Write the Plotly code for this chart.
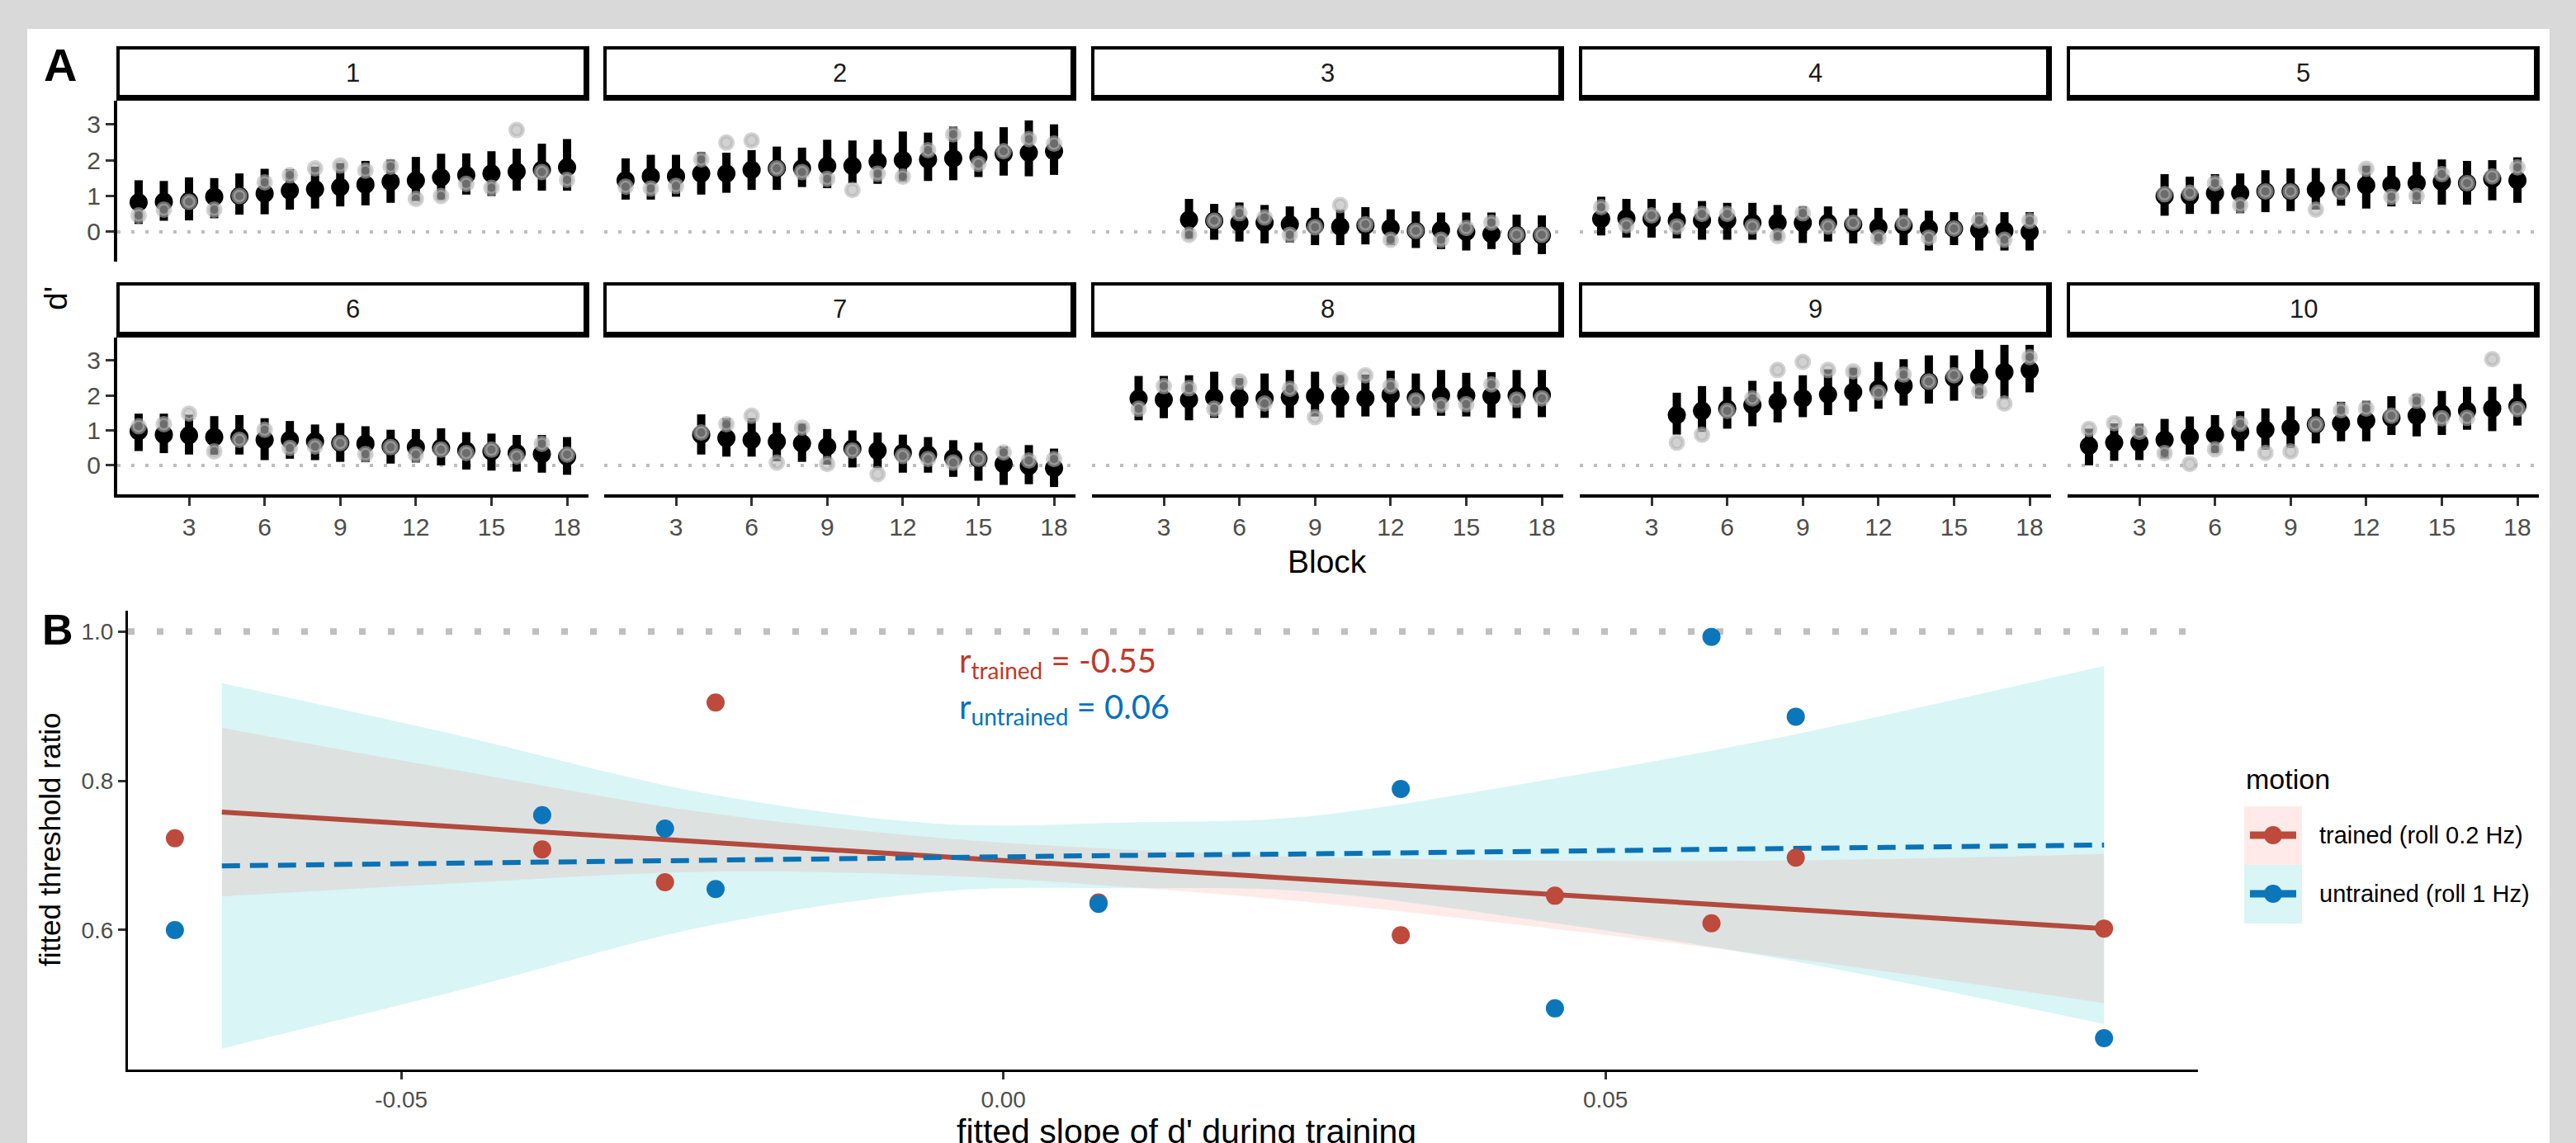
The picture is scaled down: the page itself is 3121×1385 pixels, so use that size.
import plotly.graph_objects as go
import numpy as np

W, H = 3121, 1385

# ---------------- Panel A data ----------------
facet_labels = ["1", "2", "3", "4", "5", "6", "7", "8", "9", "10"]
block_start = [1, 1, 4, 1, 4, 1, 4, 2, 4, 1]
block_ticks = [3, 6, 9, 12, 15, 18]
dprime_ticks = [0, 1, 2, 3]

d_mean = [
    [0.82, 0.84, 0.86, 0.98, 1.00, 1.07, 1.15, 1.19, 1.25, 1.32, 1.40, 1.43, 1.52, 1.58, 1.63, 1.68, 1.73, 1.80],
    [1.44, 1.55, 1.55, 1.63, 1.63, 1.73, 1.77, 1.77, 1.84, 1.84, 1.96, 2.00, 2.02, 2.05, 2.09, 2.18, 2.21, 2.25],
    [0.34, 0.31, 0.26, 0.26, 0.21, 0.18, 0.15, 0.18, 0.11, 0.03, 0.05, 0.00, -0.06, -0.08, -0.10],
    [0.36, 0.38, 0.36, 0.31, 0.32, 0.32, 0.25, 0.26, 0.25, 0.25, 0.21, 0.13, 0.17, 0.09, 0.09, 0.05, 0.03, 0.00],
    [1.00, 1.00, 1.08, 1.08, 1.13, 1.13, 1.18, 1.19, 1.30, 1.32, 1.36, 1.40, 1.36, 1.48, 1.44],
    [0.98, 0.88, 0.86, 0.81, 0.81, 0.73, 0.73, 0.69, 0.64, 0.62, 0.54, 0.52, 0.50, 0.42, 0.40, 0.35, 0.32, 0.25],
    [0.88, 0.78, 0.73, 0.68, 0.63, 0.54, 0.48, 0.42, 0.36, 0.31, 0.21, 0.19, 0.04, -0.02, -0.08],
    [1.91, 1.88, 1.88, 1.94, 1.92, 1.92, 1.95, 1.98, 1.94, 1.92, 2.02, 1.94, 2.00, 2.00, 1.98, 2.00, 2.02],
    [1.44, 1.56, 1.62, 1.73, 1.83, 1.92, 2.03, 2.10, 2.19, 2.28, 2.40, 2.50, 2.55, 2.67, 2.73],
    [0.56, 0.65, 0.65, 0.73, 0.82, 0.87, 0.96, 1.02, 1.08, 1.17, 1.21, 1.28, 1.36, 1.42, 1.48, 1.56, 1.63, 1.70],
]
d_upper = [
    [1.44, 1.42, 1.52, 1.50, 1.63, 1.76, 1.75, 1.82, 1.92, 1.98, 2.02, 2.09, 2.18, 2.19, 2.25, 2.32, 2.46, 2.59],
    [2.05, 2.15, 2.15, 2.23, 2.21, 2.28, 2.38, 2.35, 2.57, 2.55, 2.57, 2.80, 2.77, 2.94, 2.80, 2.92, 3.11, 3.00],
    [0.92, 0.78, 0.82, 0.75, 0.71, 0.67, 0.62, 0.69, 0.63, 0.57, 0.54, 0.54, 0.54, 0.48, 0.46],
    [0.98, 0.92, 0.92, 0.81, 0.86, 0.81, 0.81, 0.75, 0.71, 0.71, 0.65, 0.67, 0.65, 0.59, 0.55, 0.54, 0.55, 0.55],
    [1.61, 1.54, 1.61, 1.63, 1.72, 1.77, 1.78, 1.76, 1.85, 1.84, 1.95, 2.02, 1.98, 2.00, 2.08],
    [1.48, 1.48, 1.45, 1.41, 1.44, 1.35, 1.27, 1.17, 1.21, 1.12, 1.02, 1.04, 1.06, 0.95, 0.91, 0.87, 0.87, 0.81],
    [1.46, 1.35, 1.35, 1.22, 1.20, 1.04, 1.00, 0.94, 0.88, 0.81, 0.72, 0.65, 0.54, 0.58, 0.48],
    [2.56, 2.56, 2.58, 2.68, 2.50, 2.63, 2.73, 2.68, 2.60, 2.60, 2.71, 2.63, 2.73, 2.65, 2.67, 2.73, 2.73],
    [2.08, 2.27, 2.25, 2.42, 2.40, 2.58, 2.75, 2.80, 2.96, 3.04, 3.15, 3.15, 3.31, 3.45, 3.45],
    [1.05, 1.20, 1.19, 1.33, 1.40, 1.44, 1.55, 1.63, 1.69, 1.63, 1.82, 1.85, 1.98, 2.04, 2.13, 2.25, 2.25, 2.33],
]
d_lower = [
    [0.22, 0.31, 0.32, 0.38, 0.48, 0.49, 0.62, 0.65, 0.71, 0.74, 0.81, 0.86, 0.89, 1.04, 1.00, 1.15, 1.15, 1.15],
    [0.90, 0.90, 0.98, 1.04, 1.09, 1.17, 1.17, 1.25, 1.22, 1.36, 1.34, 1.40, 1.42, 1.44, 1.53, 1.57, 1.55, 1.59],
    [-0.20, -0.22, -0.27, -0.32, -0.30, -0.37, -0.37, -0.35, -0.37, -0.45, -0.48, -0.52, -0.48, -0.64, -0.62],
    [-0.10, -0.16, -0.16, -0.18, -0.22, -0.22, -0.22, -0.25, -0.31, -0.27, -0.32, -0.33, -0.37, -0.52, -0.37, -0.52, -0.52, -0.52],
    [0.45, 0.50, 0.50, 0.52, 0.55, 0.58, 0.62, 0.73, 0.65, 0.71, 0.78, 0.76, 0.76, 0.88, 0.81],
    [0.41, 0.35, 0.31, 0.30, 0.31, 0.15, 0.19, 0.15, 0.10, 0.09, 0.05, 0.08, 0.00, -0.12, -0.15, -0.18, -0.21, -0.27],
    [0.31, 0.25, 0.25, 0.12, 0.10, 0.02, -0.06, -0.08, -0.21, -0.21, -0.33, -0.44, -0.56, -0.54, -0.62],
    [1.29, 1.35, 1.29, 1.36, 1.36, 1.36, 1.36, 1.40, 1.37, 1.40, 1.38, 1.42, 1.42, 1.40, 1.37, 1.35, 1.38],
    [0.88, 0.96, 1.05, 1.12, 1.23, 1.38, 1.44, 1.54, 1.62, 1.71, 1.77, 1.85, 1.92, 1.90, 2.09],
    [0.00, 0.13, 0.15, 0.20, 0.31, 0.35, 0.41, 0.45, 0.50, 0.63, 0.69, 0.69, 0.87, 0.83, 0.87, 1.02, 0.98, 1.14],
]
d_obs = [
    [0.46, 0.62, 0.84, 0.62, 1.00, 1.38, 1.58, 1.77, 1.85, 1.71, 1.82, 0.92, 1.00, 1.34, 1.23, 2.84, 1.67, 1.45],
    [1.26, 1.21, 1.28, 2.02, 2.49, 2.55, 1.77, 1.67, 1.48, 1.17, 1.62, 1.54, 2.28, 2.72, 1.90, 2.25, 2.59, 2.46],
    [-0.08, 0.31, 0.52, 0.40, -0.08, 0.13, 0.75, 0.21, -0.22, 0.03, -0.22, 0.11, 0.26, -0.08, -0.08],
    [0.69, 0.18, 0.46, 0.15, 0.50, 0.50, 0.15, -0.12, 0.52, 0.15, 0.25, -0.16, 0.25, -0.16, 0.09, 0.32, -0.22, 0.31],
    [1.05, 1.09, 1.36, 0.75, 1.13, 1.13, 0.62, 1.12, 1.76, 0.98, 1.00, 1.61, 1.36, 1.55, 1.80],
    [1.12, 1.18, 1.48, 0.40, 0.73, 1.02, 0.50, 0.54, 0.64, 0.32, 0.52, 0.31, 0.45, 0.35, 0.45, 0.25, 0.62, 0.31],
    [0.94, 1.18, 1.42, 0.08, 1.08, 0.04, 0.42, -0.25, 0.27, 0.18, 0.08, 0.19, 0.37, 0.14, 0.18],
    [1.62, 2.27, 2.21, 1.62, 2.40, 1.77, 2.19, 1.38, 2.46, 2.58, 2.27, 1.86, 1.73, 1.75, 2.32, 1.88, 1.92],
    [0.65, 0.88, 1.56, 1.92, 2.73, 2.96, 2.73, 2.69, 2.08, 2.60, 2.40, 2.58, 2.12, 1.77, 3.10],
    [1.04, 1.21, 0.96, 0.35, 0.04, 0.46, 1.19, 0.36, 0.40, 1.17, 1.58, 1.63, 1.42, 1.85, 1.35, 1.36, 3.04, 1.61],
]

# ---------------- Panel B data ----------------
slope_x = [-0.0688, -0.0383, -0.0281, -0.0239, 0.0079, 0.0330, 0.0458, 0.0588, 0.0658, 0.0914]
ratio_trained = [0.723, 0.708, 0.664, 0.905, 0.637, 0.593, 0.646, 0.609, 0.697, 0.602]
ratio_untrained = [0.600, 0.754, 0.736, 0.655, 0.635, 0.789, 0.495, 0.993, 0.886, 0.455]

# fitted lines and confidence bands
band_x = [-0.0649, -0.045, -0.025, -0.005, 0.010, 0.025, 0.045, 0.065, 0.0914]
fit_trained = [0.758, 0.738, 0.718, 0.698, 0.683, 0.668, 0.648, 0.628, 0.602]
lo_trained = [0.645, 0.663, 0.678, 0.673, 0.658, 0.638, 0.603, 0.563, 0.502]
hi_trained = [0.871, 0.813, 0.758, 0.723, 0.708, 0.698, 0.693, 0.693, 0.702]
fit_untrained = [0.686, 0.690, 0.694, 0.697, 0.700, 0.702, 0.706, 0.710, 0.714]
lo_untrained = [0.441, 0.520, 0.604, 0.652, 0.656, 0.652, 0.611, 0.560, 0.474]
hi_untrained = [0.931, 0.860, 0.784, 0.742, 0.744, 0.752, 0.801, 0.860, 0.954]
ratio_ticks = [0.6, 0.8, 1.0]
ratio_tick_text = ["0.6", "0.8", "1.0"]
slope_ticks = [-0.05, 0.0, 0.05]
slope_tick_text = ["-0.05", "0.00", "0.05"]

r_trained = -0.55
r_untrained = 0.06

# ---------------- styling ----------------
RED = "#BD4A3B"
BLUE = "#0C76BB"
TXT = "#4d4d4d"
FONT = "Liberation Sans, Arial, sans-serif"


def fx(p):
    return p / W


def fy(p):
    return 1 - p / H


fig = go.Figure()
layout = dict(
    width=W, height=H,
    margin=dict(l=0, r=0, t=0, b=0, pad=0),
    paper_bgcolor="#d9d9d9",
    plot_bgcolor="rgba(0,0,0,0)",
    showlegend=False,
    font=dict(family=FONT, color="black"),
)
shapes = []
annotations = []

# white figure background
shapes.append(dict(type="rect", xref="paper", yref="paper", x0=fx(33), x1=fx(3089), y0=fy(1390), y1=fy(35),
                   fillcolor="white", line=dict(width=0), layer="below"))

lefts = [142, 732, 1323, 1914, 2505]
pw = 571
rows = [(122, 317, 56), (409, 599, 342)]  # plot top, plot bottom, strip top
XR = [0.15, 18.85]
YR = [-0.83, 3.66]

for k in range(10):
    r, c = divmod(k, 5)
    i = k + 1
    xn = "x" if i == 1 else f"x{i}"
    yn = "y" if i == 1 else f"y{i}"
    top, bot, stop = rows[r]
    left = lefts[c]
    layout["xaxis" if i == 1 else f"xaxis{i}"] = dict(
        domain=[fx(left), fx(left + pw)], range=XR, tickvals=block_ticks,
        showgrid=False, zeroline=False, showline=(r == 1), linecolor="black", linewidth=4,
        ticks="outside" if r == 1 else "", ticklen=10, tickwidth=3, tickcolor="#333333",
        showticklabels=(r == 1), tickfont=dict(size=30, color=TXT, family=FONT),
        anchor=yn, fixedrange=True)
    layout["yaxis" if i == 1 else f"yaxis{i}"] = dict(
        domain=[fy(bot), fy(top)], range=YR, tickvals=dprime_ticks,
        showgrid=False, zeroline=False, showline=(c == 0), linecolor="black", linewidth=4,
        ticks="outside" if c == 0 else "", ticklen=10, tickwidth=3, tickcolor="#333333",
        showticklabels=(c == 0), tickfont=dict(size=30, color=TXT, family=FONT),
        anchor=xn, fixedrange=True)

    blocks = list(range(block_start[k], block_start[k] + len(d_mean[k])))
    mean = np.array(d_mean[k])
    up = np.array(d_upper[k])
    lo = np.array(d_lower[k])

    fig.add_trace(go.Scatter(x=XR, y=[0, 0], mode="lines", xaxis=xn, yaxis=yn, hoverinfo="skip",
                             line=dict(color="#bdbdbd", width=4, dash="4px,13px")))
    fig.add_trace(go.Scatter(x=blocks, y=mean, mode="markers", xaxis=xn, yaxis=yn,
                             marker=dict(size=22, color="black", line=dict(width=0)),
                             error_y=dict(type="data", symmetric=False, array=up - mean,
                                          arrayminus=mean - lo, thickness=10, width=0, color="black")))
    fig.add_trace(go.Scatter(x=blocks, y=d_obs[k], mode="markers", xaxis=xn, yaxis=yn,
                             marker=dict(size=15, color="rgba(180,180,180,0.6)",
                                         line=dict(width=5, color="rgba(180,180,180,0.6)"))))

    # strip
    sl, sr, st, sb = left - 1, left + pw + 1, stop, top
    shapes.append(dict(type="rect", xref="paper", yref="paper", x0=fx(sl), x1=fx(sr), y0=fy(sb), y1=fy(st),
                       fillcolor="black", line=dict(width=0)))
    shapes.append(dict(type="rect", xref="paper", yref="paper", x0=fx(sl + 4), x1=fx(sr - 7), y0=fy(sb - 7),
                       y1=fy(st + 4), fillcolor="white", line=dict(width=0)))
    annotations.append(dict(xref="paper", yref="paper", x=fx((sl + sr) / 2), y=fy((st + sb) / 2 - 1),
                            text=facet_labels[k], showarrow=False, font=dict(size=31, color="#1a1a1a", family=FONT),
                            xanchor="center", yanchor="middle"))

# Panel A titles
annotations.append(dict(xref="paper", yref="paper", x=fx(73), y=fy(78), text="<b>A</b>", showarrow=False,
                        font=dict(size=56, color="black", family=FONT), xanchor="center", yanchor="middle"))
annotations.append(dict(xref="paper", yref="paper", x=fx(68), y=fy(362), text="d'", showarrow=False, textangle=-90,
                        font=dict(size=39, color="black", family=FONT), xanchor="center", yanchor="middle"))
annotations.append(dict(xref="paper", yref="paper", x=fx(1608), y=fy(680), text="Block", showarrow=False,
                        font=dict(size=39, color="black", family=FONT), xanchor="center", yanchor="middle"))

# ---------------- Panel B ----------------
XB = [-0.0727, 0.0992]
YB = [0.413, 1.028]
layout["xaxis11"] = dict(domain=[fx(155), fx(2663)], range=XB, tickvals=slope_ticks, ticktext=slope_tick_text,
                         showgrid=False, zeroline=False, showline=True, linecolor="black", linewidth=3,
                         ticks="outside", ticklen=9, tickwidth=2.5, tickcolor="#333333",
                         tickfont=dict(size=28, color=TXT, family=FONT), anchor="y11", fixedrange=True)
layout["yaxis11"] = dict(domain=[fy(1296), fy(740)], range=YB, tickvals=ratio_ticks,
                         ticktext=ratio_tick_text,
                         showgrid=False, zeroline=False, showline=True, linecolor="black", linewidth=3,
                         ticks="outside", ticklen=9, tickwidth=2.5, tickcolor="#333333",
                         tickfont=dict(size=28, color=TXT, family=FONT), anchor="x11", fixedrange=True)

fig.add_trace(go.Scatter(x=XB, y=[1, 1], mode="lines", xaxis="x11", yaxis="y11", hoverinfo="skip",
                         line=dict(color="#bfbfbf", width=8, dash="8px,27px")))
# bands (lower edge, then upper edge filled to it)
for lo_b, hi_b, fc in [(lo_untrained, hi_untrained, "rgba(0,191,196,0.15)"),
                       (lo_trained, hi_trained, "rgba(248,118,109,0.15)")]:
    fig.add_trace(go.Scatter(x=band_x, y=lo_b, mode="lines", line=dict(width=0, shape="spline"),
                             xaxis="x11", yaxis="y11", hoverinfo="skip"))
    fig.add_trace(go.Scatter(x=band_x, y=hi_b, mode="lines", line=dict(width=0, shape="spline"),
                             fill="tonexty", fillcolor=fc, xaxis="x11", yaxis="y11", hoverinfo="skip"))
fig.add_trace(go.Scatter(x=band_x, y=fit_trained, mode="lines", xaxis="x11", yaxis="y11",
                         line=dict(color="#B34A3D", width=6)))
fig.add_trace(go.Scatter(x=band_x, y=fit_untrained, mode="lines", xaxis="x11", yaxis="y11",
                         line=dict(color="#0A72B5", width=6, dash="22px,12px")))
fig.add_trace(go.Scatter(x=slope_x, y=ratio_trained, mode="markers", xaxis="x11", yaxis="y11",
                         marker=dict(size=22, color=RED)))
fig.add_trace(go.Scatter(x=slope_x, y=ratio_untrained, mode="markers", xaxis="x11", yaxis="y11",
                         marker=dict(size=22, color=BLUE)))

annotations.append(dict(xref="paper", yref="paper", x=fx(70), y=fy(763), text="<b>B</b>", showarrow=False,
                        font=dict(size=52, color="black", family=FONT), xanchor="center", yanchor="middle"))
annotations.append(dict(xref="paper", yref="paper", x=fx(60), y=fy(1018), text="fitted threshold ratio",
                        showarrow=False, textangle=-90, font=dict(size=35, color="black", family=FONT),
                        xanchor="center", yanchor="middle"))
annotations.append(dict(xref="paper", yref="paper", x=fx(1437), y=fy(1371), text="fitted slope of d' during training",
                        showarrow=False, font=dict(size=41, color="black", family=FONT),
                        xanchor="center", yanchor="middle"))
annotations.append(dict(xref="paper", yref="paper", x=fx(1160), y=fy(802),
                        text=f"r<sub>trained</sub> = {r_trained:.2f}", showarrow=False,
                        font=dict(size=40, color="#C0392B", family="Lato, Open Sans, sans-serif"),
                        xanchor="left", yanchor="middle"))
annotations.append(dict(xref="paper", yref="paper", x=fx(1160), y=fy(858),
                        text=f"r<sub>untrained</sub> = {r_untrained:.2f}", showarrow=False,
                        font=dict(size=40, color="#0072BD", family="Lato, Open Sans, sans-serif"),
                        xanchor="left", yanchor="middle"))

# legend (manual)
annotations.append(dict(xref="paper", yref="paper", x=fx(2719), y=fy(944), text="motion", showarrow=False,
                        font=dict(size=34, color="black", family=FONT), xanchor="left", yanchor="middle"))
leg = [("trained (roll 0.2 Hz)", RED, "rgba(248,118,109,0.15)", 977),
       ("untrained (roll 1 Hz)", BLUE, "rgba(0,191,196,0.15)", 1048)]
for lab, col, bg, ytop in leg:
    cy = ytop + 35
    shapes.append(dict(type="rect", xref="paper", yref="paper", x0=fx(2719), x1=fx(2789), y0=fy(ytop + 71),
                       y1=fy(ytop), fillcolor=bg, line=dict(width=0)))
    shapes.append(dict(type="line", xref="paper", yref="paper", x0=fx(2726), x1=fx(2782), y0=fy(cy), y1=fy(cy),
                       line=dict(color=col, width=9)))
    shapes.append(dict(type="circle", xref="paper", yref="paper", x0=fx(2754 - 11), x1=fx(2754 + 11),
                       y0=fy(cy + 11), y1=fy(cy - 11), fillcolor=col, line=dict(width=0)))
    annotations.append(dict(xref="paper", yref="paper", x=fx(2808), y=fy(cy), text=lab, showarrow=False,
                            font=dict(size=29, color="black", family=FONT), xanchor="left", yanchor="middle"))

layout["shapes"] = shapes
layout["annotations"] = annotations
fig.update_layout(**layout)
fig.write_html("out.html", config={"displayModeBar": False, "staticPlot": False},
               post_script="document.body.style.margin='0';document.body.style.background='#d9d9d9';")
